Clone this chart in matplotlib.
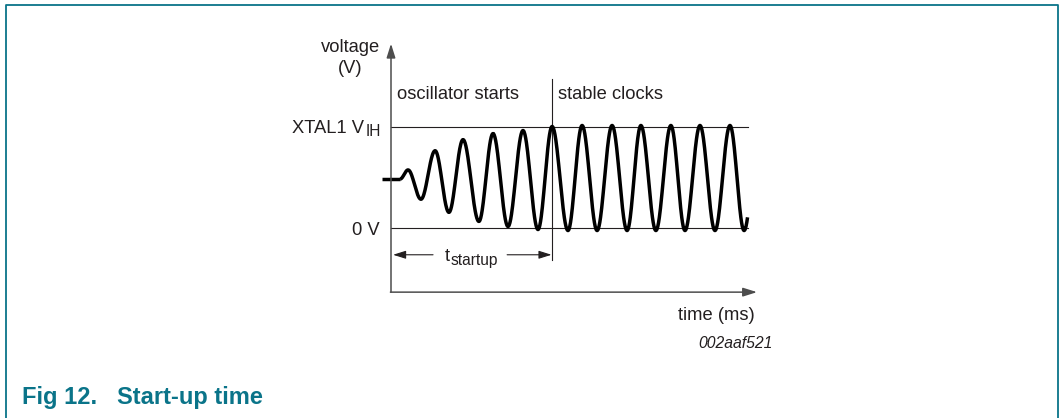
import numpy as np
import matplotlib.pyplot as plt
from matplotlib.lines import Line2D

plt.rcParams['font.family'] = ['Liberation Sans', 'DejaVu Sans']

# time in clock periods, voltage as a fraction of XTAL1 V_IH
flat_t = [-0.31, 0.31]
flat_v = 0.48
# alternating peaks and troughs of the oscillator signal
ext_t = [0.58, 1.02, 1.50, 1.97, 2.45, 2.99, 3.47, 3.98, 4.49, 5.00, 5.48,
         6.02, 6.50, 7.01, 7.52, 8.03, 8.50, 9.01, 9.52, 10.00, 10.51,
         11.02, 11.53, 12.01, 12.52]
ext_v = [0.57, 0.28, 0.76, 0.15, 0.87, 0.06, 0.93, 0.01, 0.96, -0.02, 1.00,
         -0.03, 1.01, -0.03, 1.01, -0.03, 1.01, -0.03, 1.01, -0.03, 1.01,
         -0.03, 1.01, -0.03, 1.01]
wave_end = 12.14
t_startup = 5.48
level_end = 12.14
v_ih = 1.0
v_zero = 0.0

ink = '#231f20'
teal = '#0a7489'


def wave(t0, v0, pts_t, pts_v, n=40):
    # half-cosine shape between successive extremes
    xs, ys = [], []
    prev_t, prev_v = t0, v0
    for t1, v1 in zip(pts_t, pts_v):
        s = np.linspace(0, 1, n)
        xs.append(prev_t + (t1 - prev_t) * s)
        ys.append(prev_v + (v1 - prev_v) * (1 - np.cos(np.pi * s)) / 2)
        prev_t, prev_v = t1, v1
    return np.concatenate(xs), np.concatenate(ys)


def main():
    fig = plt.figure(figsize=(10.61, 4.18), dpi=100)
    ax = fig.add_axes([0, 0, 1, 1])
    ax.set_xlim(-391 / 29.4, (1061 - 391) / 29.4)
    ax.set_ylim((227.5 - 418) / 101, 227.5 / 101)
    ax.axis('off')

    # frame round the figure
    fig.add_artist(Line2D([5.5 / 1061, 5.5 / 1061, 1058 / 1061, 1058 / 1061],
                          [0, 1 - 4.5 / 418, 1 - 4.5 / 418, 0],
                          transform=fig.transFigure, color=teal, lw=1.3))

    # axes with arrows
    head = '-|>,head_length=0.7,head_width=0.22'
    ax.annotate('', xy=(0, 1.82), xytext=(0, -0.64),
                arrowprops=dict(arrowstyle=head, color='#4d4d4d', lw=1.1,
                                mutation_scale=12, shrinkA=0, shrinkB=0))
    ax.annotate('', xy=(12.45, -0.64), xytext=(-0.02, -0.64),
                arrowprops=dict(arrowstyle=head, color='#4d4d4d', lw=1.1,
                                mutation_scale=12, shrinkA=0, shrinkB=0))

    # reference levels and start-up marker
    ax.plot([0, level_end], [v_ih, v_ih], color=ink, lw=0.8)
    ax.plot([0, level_end], [v_zero, v_zero], color=ink, lw=0.8)
    ax.plot([t_startup, t_startup], [-0.32, 1.47], color=ink, lw=0.8)

    # oscillator waveform
    wx, wy = wave(flat_t[1], flat_v, ext_t, ext_v)
    keep = wx <= wave_end
    ax.plot(flat_t, [flat_v, flat_v], color='black', lw=2.5,
            solid_capstyle='butt')
    ax.plot(wx[keep], wy[keep], color='black', lw=2.5, solid_capstyle='butt')

    # t_startup dimension arrows
    for a, b in [(1.43, 0.07), (3.95, t_startup - 0.02)]:
        ax.annotate('', xy=(b, -0.27), xytext=(a, -0.27),
                    arrowprops=dict(arrowstyle=head, color=ink, lw=0.8,
                                    mutation_scale=11, shrinkA=0, shrinkB=0))
    fs = 13.2
    sub_fs = 11.2
    t_txt = ax.text(1.84, -0.33, 't', ha='left', va='baseline',
                    fontsize=fs, color=ink)
    ax.annotate('startup', xy=(1, -0.37), xycoords=(t_txt, 'data'),
                ha='left', va='baseline', fontsize=sub_fs, color=ink)

    ax.text(-0.37, 1.74, 'voltage', ha='right', va='baseline', fontsize=fs, color=ink)
    ax.text(-1.39, 1.53, '(V)', ha='center', va='baseline', fontsize=fs, color=ink)
    ax.text(0.2, 1.27, 'oscillator starts', ha='left', va='baseline',
            fontsize=fs, color=ink)
    ax.text(5.68, 1.27, 'stable clocks', ha='left', va='baseline',
            fontsize=fs, color=ink)
    ih_txt = ax.text(-0.35, 0.906, 'IH', ha='right', va='baseline',
                     fontsize=sub_fs, color=ink)
    ax.annotate('XTAL1 V', xy=(0, 0.94), xycoords=(ih_txt, 'data'),
                xytext=(-1.2, 0), textcoords='offset points',
                ha='right', va='baseline', fontsize=fs, color=ink)
    ax.text(-0.37, -0.07, '0 V', ha='right', va='baseline', fontsize=fs, color=ink)
    ax.text(12.38, -0.92, 'time (ms)', ha='right', va='baseline',
            fontsize=fs, color=ink)
    ax.text(12.99, -1.19, '002aaf521', ha='right', va='baseline',
            fontsize=11.3, style='italic', color=ink)

    fig.text(22 / 1061, 1 - 404 / 418, 'Fig 12.   Start-up time', ha='left',
             va='baseline', fontsize=17, fontweight='bold', color=teal)

    fig.savefig('out.png', dpi=100)
    plt.close(fig)


if __name__ == '__main__':
    main()
